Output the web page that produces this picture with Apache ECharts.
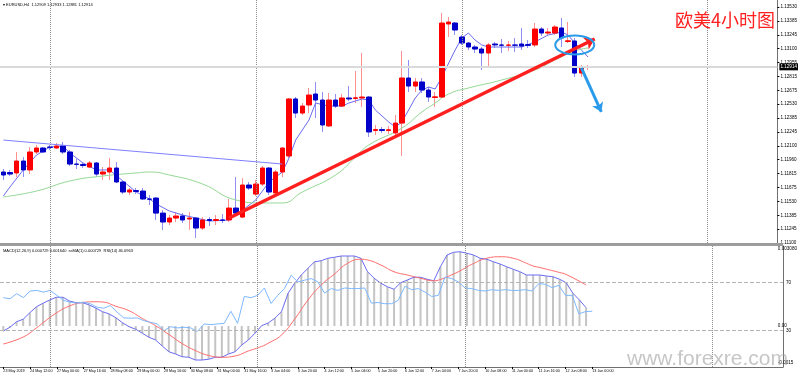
<!DOCTYPE html>
<html>
<head>
<meta charset="utf-8">
<script src="https://cdn.jsdelivr.net/npm/echarts@6/dist/echarts.min.js"></script>
<style>
html, body { margin: 0; padding: 0; background: #fff; }
#chart { width: 800px; height: 376px; }
</style>
</head>
<body>
<div id="chart"></div>
<script>
// EURUSD H4 K线
var opens = [1.11831,1.11826,1.11821,1.11944,1.11852,1.12037,1.12078,1.12088,1.12078,1.12099,
  1.12037,1.11913,1.11908,1.11882,1.11924,1.11810,1.11831,1.11872,1.11728,1.11625,
  1.11640,1.11635,1.11553,1.11563,1.11408,1.11316,1.11357,1.11378,1.11347,1.11357,
  1.11254,1.11342,1.11332,1.11337,1.11337,1.11460,1.11367,1.11697,1.11604,1.11707,
  1.11872,1.11615,1.11831,1.11996,1.12583,1.12438,1.12521,1.12634,1.12572,1.12305,
  1.12572,1.12510,1.12593,1.12588,1.12593,1.12603,1.12258,1.12268,1.12258,1.12233,
  1.12335,1.12799,1.12716,1.12758,1.12675,1.12598,1.12603,1.13355,1.13365,1.13221,
  1.13159,1.13118,1.13097,1.13056,1.13149,1.13139,1.13136,1.13139,1.13149,1.13143,
  1.13139,1.13303,1.13262,1.13262,1.13314,1.13175,1.13180,1.12850,1.12909];
var closes = [1.11800,1.11810,1.11944,1.11852,1.12037,1.12078,1.12037,1.12085,1.12099,1.12037,
  1.11913,1.11910,1.11898,1.11924,1.11810,1.11831,1.11872,1.11728,1.11625,1.11646,
  1.11630,1.11553,1.11550,1.11408,1.11316,1.11357,1.11378,1.11337,1.11357,1.11254,
  1.11337,1.11332,1.11342,1.11334,1.11460,1.11408,1.11697,1.11666,1.11707,1.11872,
  1.11625,1.11831,1.12078,1.12583,1.12438,1.12510,1.12624,1.12572,1.12315,1.12572,
  1.12510,1.12593,1.12583,1.12595,1.12603,1.12243,1.12268,1.12258,1.12266,1.12335,
  1.12799,1.12716,1.12758,1.12675,1.12603,1.12605,1.13365,1.13375,1.13293,1.13159,
  1.13118,1.13097,1.13056,1.13139,1.13139,1.13136,1.13139,1.13136,1.13128,1.13135,
  1.13303,1.13262,1.13272,1.13324,1.13211,1.13182,1.12850,1.12912,1.12914];
var lows = [1.11749,1.11790,1.11779,1.11779,1.11810,1.12016,1.12027,1.12057,1.12068,1.12016,
  1.11893,1.11862,1.11872,1.11872,1.11779,1.11749,1.11749,1.11718,1.11604,1.11594,
  1.11604,1.11543,1.11491,1.11337,1.11234,1.11285,1.11316,1.11306,1.11234,1.11151,
  1.11234,1.11275,1.11285,1.11306,1.11316,1.11388,1.11357,1.11646,1.11584,1.11687,
  1.11594,1.11594,1.11779,1.11975,1.12387,1.12418,1.12438,1.12387,1.12243,1.12294,
  1.12490,1.12500,1.12562,1.12541,1.12500,1.12191,1.12212,1.12233,1.12222,1.12202,
  1.11996,1.12655,1.12655,1.12644,1.12552,1.12500,1.12593,1.13221,1.13242,1.13139,
  1.13087,1.13056,1.12881,1.12912,1.13108,1.13056,1.13077,1.13067,1.13087,1.13108,
  1.13118,1.13231,1.13242,1.13242,1.13118,1.13159,1.12809,1.12809,1.12881];
var highs = [1.11862,1.11852,1.12037,1.11985,1.12088,1.12109,1.12088,1.12109,1.12130,1.12140,
  1.12057,1.11965,1.11934,1.11944,1.11934,1.11882,1.11975,1.11934,1.11738,1.11666,
  1.11666,1.11666,1.11594,1.11574,1.11439,1.11388,1.11419,1.11408,1.11419,1.11367,
  1.11367,1.11367,1.11388,1.11398,1.11553,1.11779,1.11769,1.11728,1.11749,1.11893,
  1.11882,1.11852,1.12088,1.12593,1.12603,1.12541,1.12696,1.12758,1.12655,1.12644,
  1.12634,1.12634,1.12716,1.12871,1.13056,1.12613,1.12315,1.12294,1.12305,1.12418,
  1.13077,1.12984,1.12799,1.12799,1.12706,1.12655,1.13468,1.13427,1.13375,1.13242,
  1.13170,1.13139,1.13118,1.13159,1.13170,1.13200,1.13180,1.13211,1.13314,1.13190,
  1.13365,1.13324,1.13314,1.13345,1.13417,1.13375,1.13211,1.12933,1.12933];

// 均线 (读图取点: K线序号 / 价格)
var maFastBars = [0,1,3,5,7,9,10,12,14,16,18,20,22,23,25,27,29,31,34,36,38,40,42,43,44,46,47,49,51,52,54,55,56,58,59,60,62,63,64,65,66,68,69,70,71,72,73,75,78,80,82,84,85,86,88];
var maFastVals = [1.11584,1.11677,1.11852,1.12006,1.12088,1.12099,1.12027,1.11924,1.11852,1.11852,
  1.11738,1.11625,1.11553,1.11502,1.11429,1.11388,1.11357,1.11326,1.11337,1.11439,
  1.11543,1.11728,1.11831,1.11975,1.12160,1.12366,1.12541,1.12510,1.12510,1.12541,
  1.12583,1.12572,1.12469,1.12346,1.12294,1.12346,1.12593,1.12675,1.12706,1.12686,
  1.12809,1.13087,1.13211,1.13262,1.13190,1.13139,1.13118,1.13118,1.13118,1.13170,
  1.13242,1.13272,1.13242,1.13159,1.13015];
var maSlowBars = [0,5,10,15,20,22,25,30,35,39,42,45,50,53,55,60,63,65,67,70,75,80,83,86,88];
var maSlowVals = [1.11574,1.11635,1.11738,1.11790,1.11821,1.11831,1.11800,1.11707,1.11543,1.11512,
  1.11512,1.11625,1.11800,1.11985,1.12109,1.12284,1.12449,1.12541,1.12634,1.12696,
  1.12778,1.12881,1.12984,1.13077,1.13108];

// MACD(12,26,9) 主线 / 信号线, RSI(14)
var macdVals = [-0.00020,-0.00005,0.00017,0.00027,0.00053,0.00077,0.00091,0.00104,0.00115,0.00115,
  0.00100,0.00093,0.00093,0.00084,0.00071,0.00057,0.00048,0.00033,0.00013,-0.00003,
  -0.00013,-0.00029,-0.00045,-0.00056,-0.00080,-0.00103,-0.00112,-0.00123,-0.00125,-0.00136,
  -0.00136,-0.00133,-0.00125,-0.00125,-0.00112,-0.00103,-0.00076,-0.00056,-0.00029,0.00001,
  0.00012,0.00031,0.00057,0.00131,0.00171,0.00204,0.00231,0.00257,0.00261,0.00271,
  0.00275,0.00280,0.00280,0.00280,0.00271,0.00217,0.00191,0.00171,0.00157,0.00147,
  0.00173,0.00184,0.00195,0.00195,0.00187,0.00181,0.00237,0.00284,0.00295,0.00297,
  0.00291,0.00284,0.00271,0.00267,0.00257,0.00248,0.00237,0.00227,0.00217,0.00204,
  0.00204,0.00204,0.00200,0.00197,0.00187,0.00173,0.00131,0.00104,0.00073];
var signalBars = [0,3,5,6,8,10,12,14,15,17,19,21,23,25,27,29,31,33,35,37,39,40,42,44,46,48,50,52,54,55,57,59,61,63,65,66,68,69,71,73,75,77,79,80,81,84,85,88];
var signalVals = [-0.00072,-0.00044,-0.00008,0.00013,0.00052,0.00080,0.00094,0.00097,0.00096,0.00079,
  0.00061,0.00030,0.00001,-0.00034,-0.00070,-0.00098,-0.00118,-0.00125,-0.00120,-0.00100,
  -0.00082,-0.00069,-0.00036,0.00028,0.00104,0.00164,0.00208,0.00251,0.00267,0.00264,
  0.00244,0.00217,0.00204,0.00191,0.00181,0.00186,0.00208,0.00221,0.00250,0.00271,
  0.00277,0.00271,0.00251,0.00240,0.00234,0.00214,0.00206,0.00164];
var rsiVals = [57.3,56.4,60.6,57.3,62.8,63.3,61.9,63.3,59.2,55.0,
  53.6,52.8,53.6,52.3,49.4,48.6,50.8,45.3,40.6,40.3,
  40.6,38.3,36.9,35.6,30.0,33.3,32.3,32.8,32.3,29.4,
  35.6,35.0,35.6,36.1,46.1,36.1,58.3,57.3,59.2,65.3,
  52.5,59.2,64.8,75.8,70.3,71.7,73.1,70.3,61.1,64.8,
  63.3,65.3,64.8,64.8,65.3,52.8,53.3,52.3,52.3,55.0,
  66.7,63.9,64.8,61.9,58.3,59.2,74.4,73.1,70.3,65.3,
  64.8,63.3,62.8,63.9,63.3,63.9,63.3,63.3,63.9,62.8,
  68.9,68.3,65.6,67.5,59.2,59.2,43.9,45.8,46.1];

// 坐标轴刻度
var priceTicks = [1.11100,1.11245,1.11385,1.11530,1.11675,1.11815,1.11960,1.12100,1.12245,
  1.12385,1.12530,1.12675,1.12815,1.12955,1.13100,1.13245,1.13385,1.13530];
var xLabels = ['23 May 2019','24 May 12:00','27 May 00:00','27 May 16:00','28 May 08:00','29 May 00:00',
  '29 May 16:00','30 May 08:00','31 May 00:00','31 May 16:00','3 Jun 04:00','3 Jun 20:00',
  '4 Jun 12:00','5 Jun 04:00','5 Jun 20:00','6 Jun 12:00','7 Jun 04:00','7 Jun 20:00',
  '10 Jun 08:00','11 Jun 00:00','11 Jun 16:00','12 Jun 08:00','13 Jun 00:00'];
var separatorBars = [7, 38, 69, 106];
var rsiLevels = [70, 30];

var myChart = echarts.init(document.getElementById('chart'));
var font = 'Liberation Sans';
var nCat = 117;
var cats = [];
for (var i = 0; i < nCat; i++) cats.push(String(i));

var wickData = [], bodyData = [];
for (var i = 0; i < opens.length; i++) {
  wickData.push([opens[i], closes[i], lows[i], highs[i]]);
  bodyData.push([opens[i], closes[i], Math.min(opens[i], closes[i]), Math.max(opens[i], closes[i])]);
}
function pairs(bars, vals) {
  return bars.map(function (b, k) { return [b, vals[k]]; });
}
var lastClose = closes[closes.length - 1];
var pMin = priceTicks[0], pMax = 1.13602;
var pStep = (priceTicks[priceTicks.length - 1] - priceTicks[0]) / (priceTicks.length - 1);
var macdMin = -0.00148, macdMax = 0.00308;

function nearestTick(v) {
  var best = priceTicks[0];
  priceTicks.forEach(function (t) { if (Math.abs(t - v) < Math.abs(best - v)) best = t; });
  return best.toFixed(5);
}

var sepLines = separatorBars.map(function (b) {
  return { xAxis: b, lineStyle: { type: 'dotted', color: '#8c8c8c', width: 1 } };
});

var option = {
  animation: false,
  backgroundColor: '#ffffff',
  grid: [
    { left: 0, right: 17, top: 0, height: 243 },
    { left: 0, right: 17, top: 249, height: 114 },
    { left: 0, right: 17, top: 246, height: 121 }
  ],
  xAxis: [
    { type: 'category', gridIndex: 0, data: cats, show: false },
    { type: 'category', gridIndex: 1, data: cats, show: false },
    {
      type: 'category', gridIndex: 2, data: cats,
      axisLine: { show: true, lineStyle: { color: '#707070', width: 1 } },
      axisTick: {
        show: true, length: 2, alignWithLabel: true,
        interval: function (idx) { return idx % 4 === 0 && idx / 4 < xLabels.length; },
        lineStyle: { color: '#000' }
      },
      axisLabel: {
        interval: 0, margin: 2, align: 'left', fontSize: 3.7, fontFamily: font, color: '#000',
        formatter: function (v, idx) {
          return (idx % 4 === 0 && idx / 4 < xLabels.length) ? xLabels[idx / 4] : '';
        }
      },
      splitLine: { show: false }
    }
  ],
  yAxis: [
    {
      type: 'value', gridIndex: 0, position: 'right', min: pMin, max: pMax, interval: pStep,
      axisLine: { show: true, lineStyle: { color: '#707070' } },
      axisTick: { show: true, length: 2, lineStyle: { color: '#000' } },
      axisLabel: {
        fontSize: 4.6, fontFamily: font, color: '#000', margin: 3, showMaxLabel: false,
        formatter: nearestTick
      },
      splitLine: { show: false }
    },
    {
      type: 'value', gridIndex: 1, position: 'right', min: macdMin, max: macdMax, interval: -macdMin,
      axisLine: { show: false }, axisTick: { show: false },
      axisLabel: {
        fontSize: 4.6, fontFamily: font, color: '#000', margin: 3,
        formatter: function (v) {
          if (Math.abs(v) < 1e-9) return '0.00';
          if (Math.abs(v - macdMax) < 1e-9) return macdMax.toFixed(6);
          if (Math.abs(v - macdMin) < 1e-9) return macdMin.toFixed(4);
          return '';
        }
      },
      splitLine: { show: false }
    },
    {
      type: 'value', gridIndex: 2, position: 'right', min: 0, max: 100, interval: 10,
      axisLine: { show: true, lineStyle: { color: '#707070' } },
      axisTick: { show: false },
      axisLabel: {
        fontSize: 4.6, fontFamily: font, color: '#000', margin: 3,
        formatter: function (v) { return rsiLevels.indexOf(v) >= 0 ? String(v) : ''; }
      },
      splitLine: { show: false }
    }
  ],
  series: [
    {
      name: 'wick', type: 'candlestick', xAxisIndex: 0, yAxisIndex: 0, barWidth: 1, z: 2,
      data: wickData,
      itemStyle: { color: '#ff9090', color0: '#8f8ff5', borderColor: '#ff9090', borderColor0: '#8f8ff5', borderWidth: 1 }
    },
    {
      name: 'MA fast', type: 'line', xAxisIndex: 0, yAxisIndex: 0, z: 3,
      data: pairs(maFastBars, maFastVals), symbol: 'none', smooth: false,
      lineStyle: { color: '#6b6bf2', width: 1 }
    },
    {
      name: 'MA slow', type: 'line', xAxisIndex: 0, yAxisIndex: 0, z: 3,
      data: pairs(maSlowBars, maSlowVals), symbol: 'none', smooth: true,
      lineStyle: { color: '#94d894', width: 1 }
    },
    {
      name: 'body', type: 'candlestick', xAxisIndex: 0, yAxisIndex: 0, barWidth: 5, z: 4,
      data: bodyData,
      itemStyle: { color: '#ff0000', color0: '#0000c8', borderColor: '#ff0000', borderColor0: '#0000c8', borderWidth: 1 },
      markLine: {
        silent: true, symbol: 'none', animation: false, z: 8, precision: 5,
        label: { show: false },
        data: sepLines.concat([
          {
            yAxis: lastClose, lineStyle: { color: '#dadada', width: 2, type: 'solid' },
            label: {
              show: true, position: 'end', distance: 2, formatter: lastClose.toFixed(5),
              fontSize: 4.6, fontFamily: font, color: '#fff', backgroundColor: '#000', padding: [1, 1]
            }
          },
          [
            { coord: [0, 1.12160], lineStyle: { color: '#7f7fff', width: 1, type: 'solid' } },
            { coord: [42, 1.11913] }
          ],
          [
            { coord: [34, 1.11357], symbol: 'none', lineStyle: { color: '#ff1f1f', width: 3.5, type: 'solid' } },
            { coord: [89, 1.13200], symbol: 'arrow', symbolSize: [10, 10] }
          ],
          [
            { coord: [87, 1.12902], symbol: 'none', lineStyle: { color: '#2a9bea', width: 3, type: 'solid' } },
            { coord: [90, 1.12449], symbol: 'arrow', symbolSize: [9, 9] }
          ]
        ])
      }
    },
    {
      name: 'MACD', type: 'bar', xAxisIndex: 1, yAxisIndex: 1, barWidth: 2, z: 2,
      data: macdVals, itemStyle: { color: '#c4c4c4' }
    },
    {
      name: 'ssMA', type: 'line', xAxisIndex: 1, yAxisIndex: 1, z: 3,
      data: macdVals, symbol: 'none', lineStyle: { color: '#6b6bf2', width: 1 }
    },
    {
      name: 'signal', type: 'line', xAxisIndex: 1, yAxisIndex: 1, z: 3,
      data: pairs(signalBars, signalVals), symbol: 'none', smooth: true,
      lineStyle: { color: '#ff6a6a', width: 1 }
    },
    {
      name: 'RSI', type: 'line', xAxisIndex: 2, yAxisIndex: 2, z: 3,
      data: rsiVals, symbol: 'none', lineStyle: { color: '#7db8ff', width: 1 },
      markLine: {
        silent: true, symbol: 'none', label: { show: false }, precision: 2,
        data: rsiLevels.map(function (v) {
          return { yAxis: v, lineStyle: { type: 'dashed', color: '#b4b4b4', width: 1 } };
        }).concat(sepLines)
      }
    }
  ],
  graphic: [
    { type: 'rect', left: 0, top: 243, shape: { width: 783, height: 3 }, style: { fill: '#9c9c9c' }, z: 10 },
    {
      type: 'text', left: 3, top: 3, z: 10,
      style: { text: '\u25BE EURUSD,H4  1.12909 1.12933 1.12881 1.12914', fontSize: 4, fontFamily: font, fill: '#000' }
    },
    {
      type: 'text', left: 3, top: 249, z: 10,
      style: { text: 'MACD(12,26,9) 0.000729 0.001640  ssMA(1) 0.000729  RSI(14) 46.0963', fontSize: 4, fontFamily: font, fill: '#000' }
    },
    {
      type: 'text', left: 675, top: 11, z: 10,
      style: { text: '欧美4小时图', fontSize: 18, fontFamily: 'Noto Sans CJK SC', fill: '#ff1f1f' }
    },
    {
      type: 'text', left: 627, top: 349, z: 10,
      style: { text: 'www.forexre.com', fontSize: 21, fontFamily: font, fill: 'rgba(160,160,160,0.6)' }
    }
  ]
};
myChart.setOption(option);

// 蓝色椭圆标注, 以数据坐标定位
var c = myChart.convertToPixel({ gridIndex: 0 }, [86, 1.13139]);
myChart.setOption({
  graphic: [{
    type: 'ellipse', id: 'ring', z: 11, silent: true,
    shape: { cx: c[0], cy: c[1], rx: 19.5, ry: 9.5 },
    style: { fill: 'none', stroke: '#2a9bea', lineWidth: 2 }
  }]
});
</script>
</body>
</html>
